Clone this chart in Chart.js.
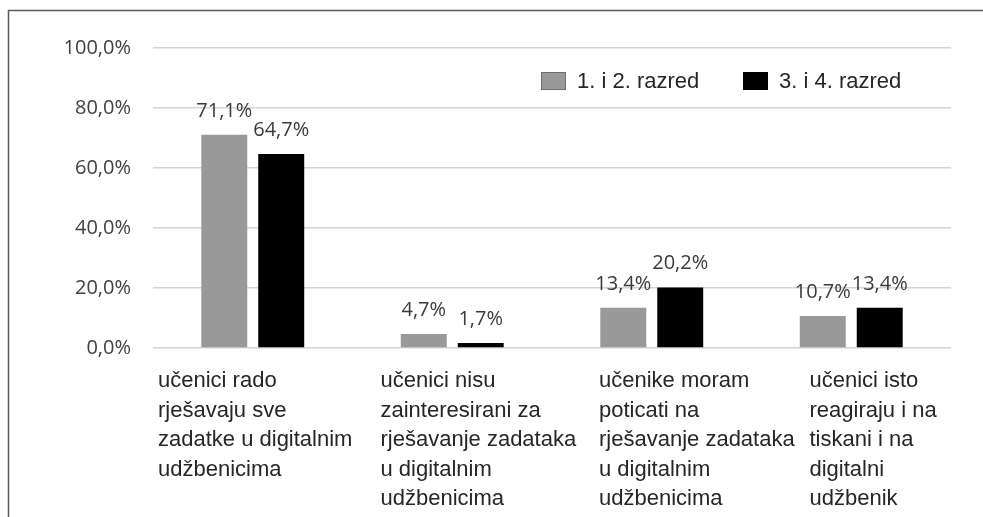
<!DOCTYPE html>
<html>
<head>
<meta charset="utf-8">
<script src="https://cdn.jsdelivr.net/npm/chart.js@4/dist/chart.umd.min.js"></script>
<style>
  html, body { margin: 0; padding: 0; background: #fff; }
  #wrap { width: 983px; height: 517px; position: relative; }
</style>
</head>
<body>
<div id="wrap"><canvas id="grafica" width="983" height="517"></canvas></div>
<script>
const categories = [
    ['učenici rado', 'rješavaju sve', 'zadatke u digitalnim', 'udžbenicima'],
    ['učenici nisu', 'zainteresirani za', 'rješavanje zadataka', 'u digitalnim', 'udžbenicima'],
    ['učenike moram', 'poticati na', 'rješavanje zadataka', 'u digitalnim', 'udžbenicima'],
    ['učenici isto', 'reagiraju i na', 'tiskani i na', 'digitalni', 'udžbenik']
]
const seriesNames = ['1. i 2. razred', '3. i 4. razred']
const razred12 = [71.1, 4.7, 13.4, 10.7]
const razred34 = [64.7, 1.7, 20.2, 13.4]
const yTicks = [0, 20, 40, 60, 80, 100]

const fmt = v => v.toFixed(1).replace('.', ',') + '%'

// frame around the picture (left + top edges)
const frame = {
    id: 'frame',
    beforeDraw(chart) {
        const ctx = chart.ctx
        ctx.save()
        ctx.strokeStyle = '#5a5a5a'
        ctx.lineWidth = 1.5
        ctx.beginPath()
        ctx.moveTo(8.5, chart.height)
        ctx.lineTo(8.5, 10.5)
        ctx.lineTo(chart.width, 10.5)
        ctx.stroke()
        ctx.restore()
    }
}

// value labels above the bars
const valueLabels = {
    id: 'valueLabels',
    afterDatasetsDraw(chart) {
        const ctx = chart.ctx
        ctx.save()
        ctx.font = '20px "Open Sans"'
        ctx.fillStyle = '#3a3a3a'
        ctx.textAlign = 'center'
        ctx.textBaseline = 'alphabetic'
        chart.data.datasets.forEach((ds, i) => {
            chart.getDatasetMeta(i).data.forEach((bar, j) => {
                ctx.fillText(fmt(ds.data[j]), bar.x, bar.y - 18)
            })
        })
        ctx.restore()
    }
}

// wrapped category labels, left aligned like the original
const catLabels = {
    id: 'catLabels',
    afterDraw(chart, args, opts) {
        const ctx = chart.ctx
        const x = chart.scales.x
        const step = (x.right - x.left) / chart.data.labels.length
        ctx.save()
        ctx.font = '22px "Liberation Sans"'
        ctx.fillStyle = '#262626'
        ctx.textAlign = 'left'
        ctx.textBaseline = 'alphabetic'
        chart.data.labels.forEach((lines, i) => {
            const left = x.left + i * step + opts.shift[i]
            lines.forEach((t, k) => {
                ctx.fillText(t, left, x.top + 39 + k * 29.5)
            })
        })
        ctx.restore()
    }
}

// legend inside plot area, top right
const insideLegend = {
    id: 'insideLegend',
    afterDraw(chart, args, opts) {
        const ctx = chart.ctx
        ctx.save()
        ctx.font = '22px "Liberation Sans"'
        ctx.textBaseline = 'middle'
        ctx.textAlign = 'left'
        opts.items.forEach((x0, i) => {
            const ds = chart.data.datasets[i]
            ctx.fillStyle = ds.backgroundColor
            ctx.fillRect(x0, opts.y - 9, 25, 18)
            ctx.strokeStyle = i === 0 ? '#6e6e6e' : '#000'
            ctx.lineWidth = 1
            ctx.strokeRect(x0 + 0.5, opts.y - 8.5, 24, 17)
            ctx.fillStyle = '#262626'
            ctx.fillText(ds.label, x0 + 36, opts.y + 1)
        })
        ctx.restore()
    }
}

const graph = document.querySelector('#grafica')

new Chart(graph, {
    type: 'bar',
    data: {
        labels: categories,
        datasets: [
            {
                label: seriesNames[0],
                data: razred12,
                backgroundColor: '#999999',
                categoryPercentage: 0.571,
                barPercentage: 0.807
            },
            {
                label: seriesNames[1],
                data: razred34,
                backgroundColor: '#000000',
                categoryPercentage: 0.571,
                barPercentage: 0.807
            }
        ]
    },
    options: {
        responsive: false,
        animation: false,
        layout: { padding: { top: 48, right: 32, left: 0, bottom: 0 } },
        plugins: {
            legend: { display: false },
            tooltip: { enabled: false },
            catLabels: { shift: [5, 28, 47, 58] },
            insideLegend: { y: 81, items: [541, 743] }
        },
        scales: {
            x: {
                grid: { display: false },
                border: { display: false },
                ticks: { display: false },
                afterFit(s) { s.height = 169 }
            },
            y: {
                min: 0,
                max: 100,
                afterBuildTicks(s) { s.ticks = yTicks.map(v => ({ value: v })) },
                grid: { color: '#d4d4d4', lineWidth: 1.5, drawTicks: false },
                border: { display: false },
                ticks: {
                    padding: 22,
                    color: '#404040',
                    font: { family: 'Open Sans', size: 20 },
                    callback: v => fmt(v)
                },
                afterFit(s) { s.width = 153 }
            }
        }
    },
    plugins: [frame, valueLabels, catLabels, insideLegend]
})
</script>
</body>
</html>
